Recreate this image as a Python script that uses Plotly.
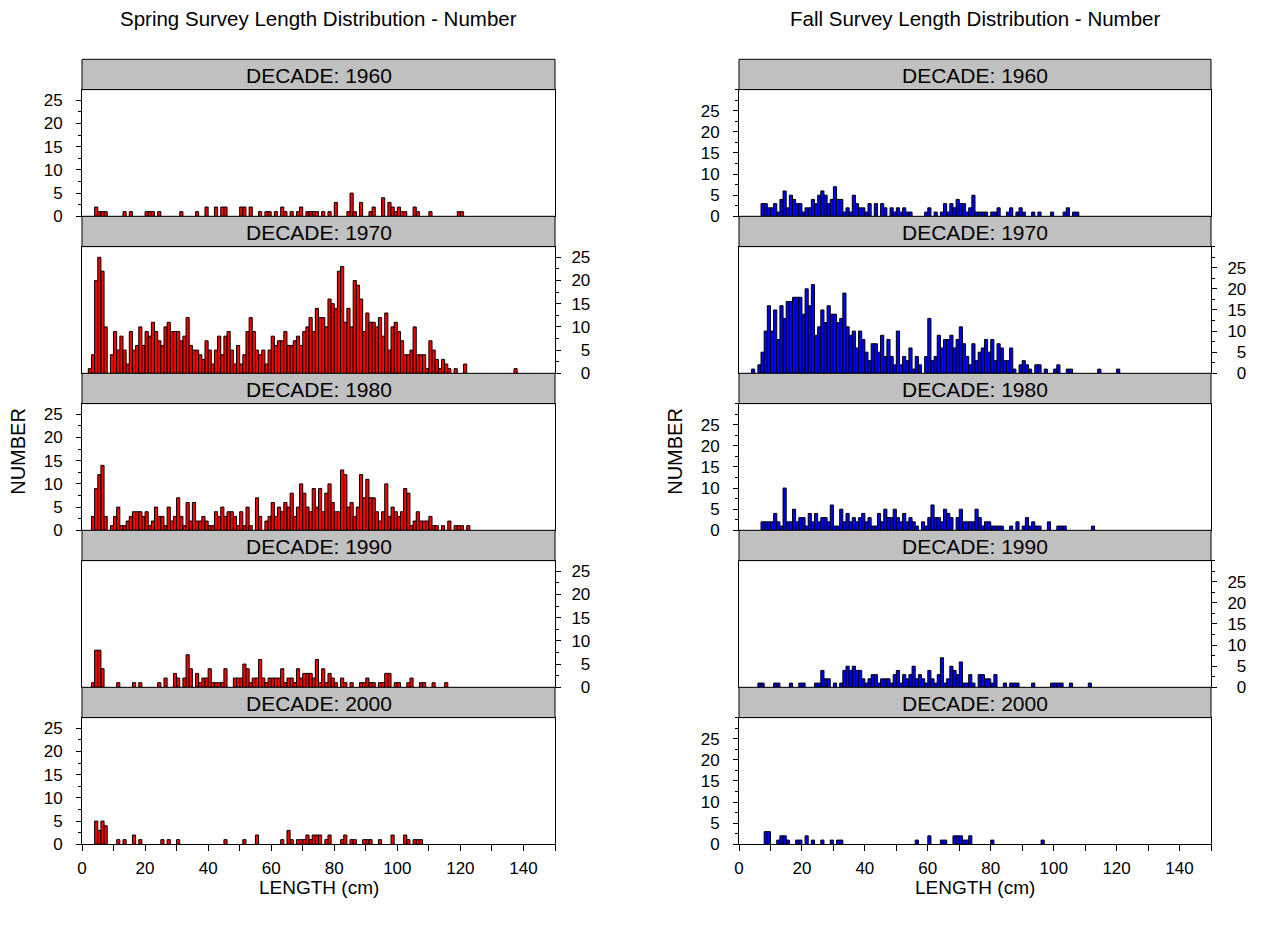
import plotly.graph_objects as go

# ---------------- data (counts per 1-cm length bin, index = length in cm) -------------
decades = ["1960", "1970", "1980", "1990", "2000"]
x_ticks = [0, 20, 40, 60, 80, 100, 120, 140]
y_ticks = [0, 5, 10, 15, 20, 25]

spring_1960 = [
    0, 0, 0, 0, 2, 1, 1, 1, 0, 0,
    0, 0, 0, 1, 0, 1, 0, 0, 0, 0,
    1, 1, 1, 0, 1, 0, 0, 0, 0, 0,
    0, 1, 0, 0, 0, 0, 1, 0, 0, 2,
    0, 0, 2, 0, 2, 2, 0, 0, 0, 0,
    2, 2, 0, 2, 0, 0, 1, 0, 1, 1,
    0, 1, 0, 2, 1, 0, 1, 0, 1, 2,
    0, 1, 1, 1, 1, 0, 1, 0, 1, 0,
    3, 0, 0, 0, 1, 5, 1, 0, 3, 0,
    0, 1, 2, 0, 0, 4, 0, 3, 2, 1,
    2, 1, 1, 0, 0, 2, 1, 0, 0, 0,
    1, 0, 0, 0, 0, 0, 0, 0, 0, 1,
    1]
spring_1970 = [
    0, 0, 1, 4, 20, 25, 22, 10, 0, 4,
    9, 5, 8, 5, 2, 9, 5, 6, 10, 6,
    9, 8, 11, 9, 7, 6, 10, 11, 9, 9,
    9, 7, 8, 12, 6, 5, 5, 4, 3, 7,
    5, 2, 5, 8, 4, 8, 9, 5, 2, 6,
    2, 4, 9, 12, 9, 5, 4, 5, 2, 5,
    8, 6, 7, 7, 9, 6, 6, 7, 8, 6,
    9, 10, 12, 9, 14, 12, 12, 10, 16, 15,
    14, 22, 23, 11, 14, 10, 20, 19, 16, 9,
    13, 11, 11, 10, 12, 8, 13, 5, 10, 11,
    9, 7, 4, 4, 5, 10, 4, 4, 4, 1,
    7, 5, 3, 1, 3, 2, 1, 0, 1, 0,
    0, 2, 0, 0, 0, 0, 0, 0, 0, 0,
    0, 0, 0, 0, 0, 0, 0, 1]
spring_1980 = [
    0, 0, 0, 3, 9, 12, 14, 3, 0, 1,
    3, 5, 1, 1, 2, 3, 4, 4, 4, 3,
    4, 1, 2, 5, 3, 3, 1, 5, 2, 3,
    7, 3, 1, 6, 2, 6, 2, 2, 3, 2,
    1, 1, 4, 3, 5, 3, 4, 4, 3, 1,
    4, 1, 5, 1, 0, 7, 3, 0, 2, 3,
    6, 3, 5, 4, 6, 5, 8, 3, 5, 10,
    8, 5, 4, 9, 5, 9, 4, 8, 10, 6,
    4, 4, 13, 12, 5, 6, 3, 5, 12, 7,
    11, 7, 7, 4, 2, 4, 10, 3, 5, 4,
    3, 4, 9, 8, 1, 2, 4, 2, 2, 2,
    3, 1, 1, 0, 1, 0, 2, 0, 1, 1,
    1, 0, 1]
spring_1990 = [
    0, 0, 0, 1, 8, 8, 4, 0, 0, 0,
    0, 1, 0, 0, 0, 0, 1, 0, 1, 0,
    0, 0, 0, 0, 1, 0, 2, 0, 0, 3,
    2, 0, 2, 7, 4, 0, 3, 1, 2, 2,
    4, 1, 1, 1, 1, 4, 0, 0, 2, 2,
    2, 5, 4, 1, 2, 2, 6, 2, 1, 2,
    2, 2, 2, 4, 1, 2, 2, 1, 4, 2,
    3, 3, 3, 2, 6, 1, 4, 1, 3, 2,
    1, 0, 2, 1, 0, 1, 0, 0, 1, 1,
    2, 1, 1, 0, 1, 1, 3, 3, 0, 1,
    1, 0, 0, 1, 2, 0, 0, 1, 1, 0,
    0, 1, 0, 0, 0, 1]
spring_2000 = [
    0, 0, 0, 0, 5, 3, 5, 4, 0, 0,
    0, 1, 0, 1, 0, 0, 2, 0, 1, 0,
    0, 0, 0, 0, 0, 1, 0, 1, 0, 0,
    1, 0, 0, 0, 0, 0, 0, 0, 0, 0,
    0, 0, 0, 0, 0, 1, 0, 0, 0, 0,
    0, 1, 0, 0, 0, 2, 0, 0, 0, 0,
    0, 0, 0, 1, 0, 3, 1, 0, 1, 1,
    1, 2, 1, 2, 2, 2, 0, 1, 2, 0,
    0, 0, 1, 2, 0, 1, 1, 0, 0, 1,
    1, 1, 0, 0, 1, 0, 0, 0, 2, 0,
    0, 0, 2, 1, 0, 1, 1, 1]

fall_1960 = [
    0, 0, 0, 0, 0, 0, 0, 3, 3, 2,
    2, 3, 1, 4, 6, 2, 5, 4, 3, 3,
    1, 2, 2, 4, 3, 5, 6, 5, 3, 4,
    7, 4, 4, 1, 2, 1, 5, 3, 2, 2,
    1, 3, 0, 3, 0, 3, 2, 0, 2, 1,
    2, 1, 2, 1, 1, 0, 0, 0, 0, 1,
    2, 0, 1, 0, 1, 3, 1, 3, 2, 4,
    3, 3, 1, 2, 5, 1, 1, 1, 1, 0,
    1, 1, 2, 0, 0, 1, 2, 0, 1, 2,
    1, 0, 0, 1, 0, 1, 0, 0, 0, 1,
    0, 0, 0, 1, 2, 0, 1, 1]
fall_1970 = [
    0, 0, 0, 0, 1, 0, 2, 5, 10, 16,
    10, 15, 8, 16, 13, 17, 17, 18, 18, 18,
    14, 20, 16, 21, 9, 11, 15, 12, 16, 14,
    14, 12, 13, 19, 11, 9, 10, 6, 10, 8,
    5, 3, 7, 7, 5, 9, 4, 8, 4, 2,
    10, 2, 4, 3, 6, 1, 4, 2, 0, 4,
    13, 3, 4, 9, 6, 8, 8, 9, 6, 8,
    11, 7, 4, 2, 7, 3, 5, 6, 8, 5,
    8, 3, 7, 6, 3, 3, 6, 1, 0, 2,
    3, 2, 1, 0, 2, 2, 0, 1, 0, 0,
    1, 2, 0, 0, 1, 1, 0, 0, 0, 0,
    0, 0, 0, 0, 1, 0, 0, 0, 0, 0,
    1]
fall_1980 = [
    0, 0, 0, 0, 0, 0, 0, 2, 2, 2,
    2, 4, 2, 1, 10, 2, 2, 5, 2, 3,
    3, 1, 4, 2, 4, 2, 3, 3, 2, 6,
    1, 1, 5, 2, 4, 2, 3, 2, 3, 4,
    2, 3, 1, 1, 4, 2, 5, 3, 3, 5,
    3, 2, 4, 2, 3, 2, 1, 0, 2, 1,
    3, 6, 3, 3, 2, 5, 4, 3, 0, 3,
    5, 2, 2, 2, 2, 5, 3, 1, 2, 2,
    1, 1, 1, 1, 0, 0, 1, 0, 2, 0,
    1, 3, 1, 2, 1, 1, 0, 0, 2, 0,
    0, 1, 1, 1, 0, 0, 0, 0, 0, 0,
    0, 0, 1]
fall_1990 = [
    0, 0, 0, 0, 0, 0, 1, 1, 0, 0,
    0, 1, 1, 0, 0, 0, 1, 0, 0, 1,
    1, 0, 0, 0, 1, 1, 4, 2, 2, 0,
    1, 0, 1, 4, 5, 4, 5, 4, 4, 2,
    1, 2, 3, 3, 1, 2, 2, 2, 1, 3,
    4, 1, 3, 2, 3, 5, 2, 3, 2, 1,
    4, 2, 1, 3, 7, 1, 2, 5, 4, 3,
    6, 1, 1, 3, 1, 0, 3, 3, 2, 2,
    1, 3, 0, 0, 1, 0, 1, 1, 1, 0,
    0, 0, 0, 1, 0, 0, 0, 0, 0, 1,
    1, 1, 1, 0, 0, 1, 0, 0, 0, 0,
    0, 1]
fall_2000 = [
    0, 0, 0, 0, 0, 0, 0, 0, 3, 3,
    0, 0, 1, 2, 2, 1, 0, 0, 1, 1,
    0, 2, 0, 1, 0, 0, 1, 0, 0, 1,
    0, 1, 1, 0, 0, 0, 0, 0, 0, 0,
    0, 0, 0, 0, 0, 0, 0, 0, 0, 0,
    0, 0, 0, 0, 0, 0, 1, 0, 0, 0,
    2, 0, 0, 0, 1, 1, 0, 0, 2, 2,
    2, 1, 1, 2, 0, 0, 0, 0, 0, 0,
    1, 0, 0, 0, 0, 0, 0, 0, 0, 0,
    0, 0, 0, 0, 0, 0, 1]

spring = [spring_1960, spring_1970, spring_1980, spring_1990, spring_2000]
fall = [fall_1960, fall_1970, fall_1980, fall_1990, fall_2000]

# ---------------- layout geometry (page pixels) ----------------
W, H = 1263, 926
FONT = "Liberation Sans, Arial, sans-serif"
columns = [
    dict(series=spring, color="#FF0000", x0=82, x1=555, ymax=27.3,
         title="Spring Survey Length Distribution - Number"),
    dict(series=fall, color="#0000FF", x0=739, x1=1211, ymax=30.0,
         title="Fall Survey Length Distribution - Number"),
]
STRIP_TOP = 59.3
STRIP_H = 30.3
PLOT_H = 126.7
PERIOD = STRIP_H + PLOT_H


def py(p):
    return 1 - p / H


def px(p):
    return p / W


FS = "\u2007"  # figure space, keeps right-side labels right-aligned

fig = go.Figure()
layout = {}
shapes = []
annotations = []

for c, col in enumerate(columns):
    for i, dec in enumerate(decades):
        n = c * 5 + i + 1
        xa = "x" if n == 1 else f"x{n}"
        ya = "y" if n == 1 else f"y{n}"
        counts = col["series"][i]
        lens = [k for k, v in enumerate(counts) if v > 0]
        vals = [v for v in counts if v > 0]
        fig.add_trace(go.Bar(
            x=lens, y=vals, width=1, offset=0,
            marker=dict(color=col["color"], line=dict(color="black", width=1)),
            xaxis=xa, yaxis=ya, showlegend=False, hoverinfo="skip"))

        s_top = STRIP_TOP + i * PERIOD
        p_top = s_top + STRIP_H
        p_bot = p_top + PLOT_H
        bottom = (i == len(decades) - 1)
        right_side = (i % 2 == 1)

        xd = dict(domain=[px(col["x0"]), px(col["x1"])], range=[0, 150],
                  anchor=ya, showline=True, mirror=True, linecolor="black",
                  linewidth=1, showgrid=False, zeroline=False, fixedrange=True,
                  automargin=False)
        if bottom:
            xd.update(tickmode="array", tickvals=x_ticks,
                      ticktext=[str(t) for t in x_ticks],
                      ticks="outside", ticklen=6, tickwidth=1, tickcolor="black",
                      ticklabelstandoff=2,
                      tickfont=dict(family=FONT, size=17, color="black"),
                      minor=dict(tickmode="linear", tick0=0, dtick=10,
                                 ticks="outside", ticklen=6, tickcolor="black",
                                 tickwidth=1, showgrid=False))
        else:
            xd.update(ticks="", showticklabels=False)
        layout["xaxis" if n == 1 else f"xaxis{n}"] = xd

        if right_side:
            ttext = [(FS + str(t)) if t < 10 else str(t) for t in y_ticks]
        else:
            ttext = [str(t) for t in y_ticks]
        yd = dict(domain=[py(p_bot), py(p_top)], range=[0, col["ymax"]],
                  anchor=xa, side="right" if right_side else "left",
                  showline=True, mirror=True, linecolor="black", linewidth=1,
                  showgrid=False, zeroline=False, fixedrange=True,
                  automargin=False,
                  tickmode="array", tickvals=y_ticks, ticktext=ttext,
                  ticks="outside", ticklen=5, tickwidth=1, tickcolor="black",
                  ticklabelstandoff=7 if right_side else 10,
                  tickfont=dict(family=FONT, size=17, color="black"),
                  minor=dict(tickmode="linear", tick0=0, dtick=2.5,
                             ticks="outside", ticklen=3, tickcolor="black",
                             tickwidth=1, showgrid=False))
        layout["yaxis" if n == 1 else f"yaxis{n}"] = yd

        # strip
        shapes.append(dict(type="rect", xref="paper", yref="paper",
                           x0=px(col["x0"]), x1=px(col["x1"]),
                           y0=py(p_top), y1=py(s_top),
                           fillcolor="#C0C0C0", line=dict(color="black", width=1),
                           layer="above"))
        annotations.append(dict(xref="paper", yref="paper",
                                x=px((col["x0"] + col["x1"]) / 2),
                                y=py(s_top + STRIP_H / 2 + 1),
                                text=f"DECADE: {dec}", showarrow=False,
                                xanchor="center", yanchor="middle",
                                font=dict(family=FONT, size=21, color="black")))

    # column title, axis titles
    cx = (col["x0"] + col["x1"]) / 2
    annotations.append(dict(xref="paper", yref="paper", x=px(cx), y=py(18),
                            text=col["title"], showarrow=False,
                            xanchor="center", yanchor="middle",
                            font=dict(family=FONT, size=20.5, color="black")))
    annotations.append(dict(xref="paper", yref="paper", x=px(cx), y=py(887),
                            text="LENGTH (cm)", showarrow=False,
                            xanchor="center", yanchor="middle",
                            font=dict(family=FONT, size=19, color="black")))
    annotations.append(dict(xref="paper", yref="paper", x=px(col["x0"] - 64),
                            y=py(STRIP_TOP + 5 * PERIOD / 2), text="NUMBER",
                            textangle=-90, showarrow=False,
                            xanchor="center", yanchor="middle",
                            font=dict(family=FONT, size=20, color="black")))

layout.update(dict(width=W, height=H, margin=dict(l=0, r=0, t=0, b=0, pad=0),
                   autosize=False,
                   plot_bgcolor="white", paper_bgcolor="white",
                   showlegend=False, barmode="overlay",
                   shapes=shapes, annotations=annotations,
                   font=dict(family=FONT, color="black")))
fig.update_layout(**layout)

page_css = ("document.documentElement.style.margin='0';"
            "document.documentElement.style.padding='0';"
            "document.documentElement.style.overflow='hidden';"
            "document.body.style.margin='0';"
            "document.body.style.padding='0';"
            "document.body.style.overflow='hidden';")
fig.write_html("out.html", post_script=page_css,
               config={"displayModeBar": False, "responsive": False})
